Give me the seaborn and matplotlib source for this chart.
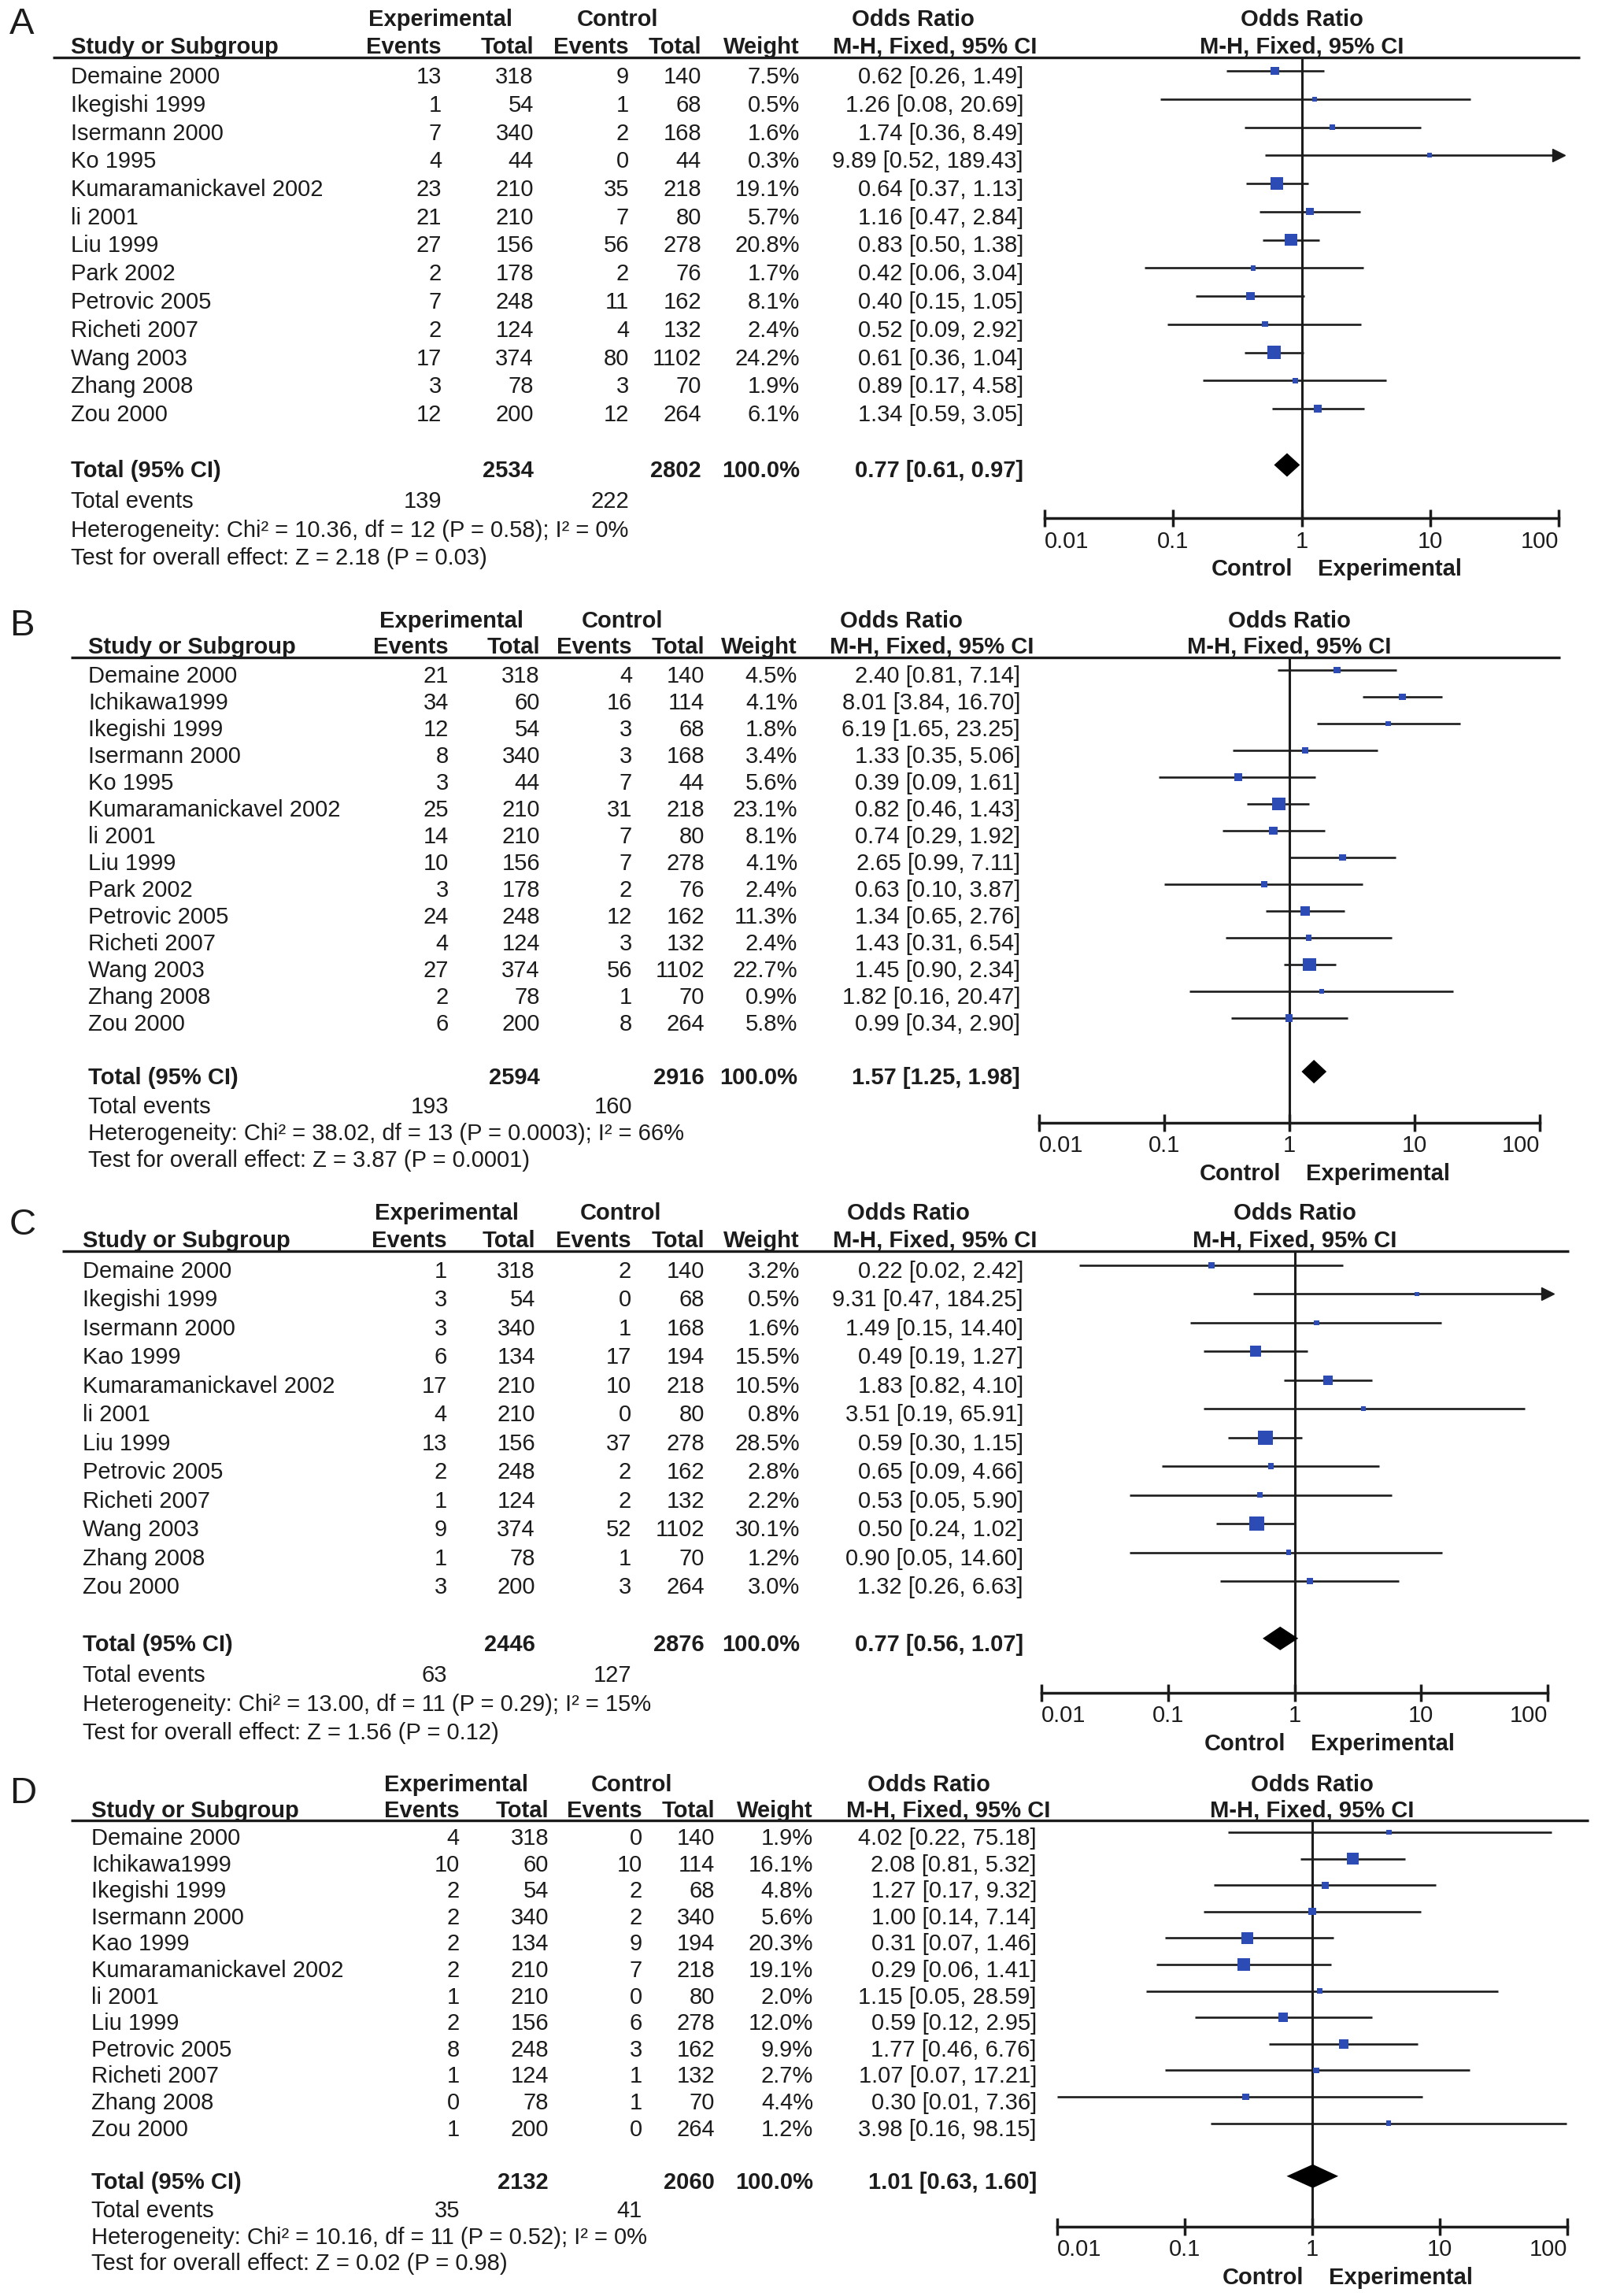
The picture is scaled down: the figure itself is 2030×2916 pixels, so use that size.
"""
Forest plots for four outcomes (panels A-D), RevMan layout: study table on
the left, odds ratios with 95% CI on a log axis on the right.
"""

import matplotlib
matplotlib.use("Agg")

import matplotlib.pyplot as plt
import numpy as np
import pandas as pd
import seaborn as sns
from matplotlib.ticker import NullLocator

W, H, DPI = 2031, 2916, 100
FS = 21
INK = "#1c1c1c"
BLUE = "#2c4bb5"

TICKS = [0.01, 0.1, 1, 10, 100]
TICK_LABELS = ["0.01", "0.1", "1", "10", "100"]

# ---- panel A ----
A_STUDY = ["Demaine 2000", "Ikegishi 1999", "Isermann 2000", "Ko 1995",
           "Kumaramanickavel 2002", "li 2001", "Liu 1999", "Park 2002",
           "Petrovic 2005", "Richeti 2007", "Wang 2003", "Zhang 2008", "Zou 2000"]
A_EXP_EVENTS = [13, 1, 7, 4, 23, 21, 27, 2, 7, 2, 17, 3, 12]
A_EXP_TOTAL = [318, 54, 340, 44, 210, 210, 156, 178, 248, 124, 374, 78, 200]
A_CTL_EVENTS = [9, 1, 2, 0, 35, 7, 56, 2, 11, 4, 80, 3, 12]
A_CTL_TOTAL = [140, 68, 168, 44, 218, 80, 278, 76, 162, 132, 1102, 70, 264]
A_WEIGHT = [7.5, 0.5, 1.6, 0.3, 19.1, 5.7, 20.8, 1.7, 8.1, 2.4, 24.2, 1.9, 6.1]
A_OR = [0.62, 1.26, 1.74, 9.89, 0.64, 1.16, 0.83, 0.42, 0.40, 0.52, 0.61, 0.89, 1.34]
A_LOW = [0.26, 0.08, 0.36, 0.52, 0.37, 0.47, 0.50, 0.06, 0.15, 0.09, 0.36, 0.17, 0.59]
A_HIGH = [1.49, 20.69, 8.49, 189.43, 1.13, 2.84, 1.38, 3.04, 1.05, 2.92, 1.04, 4.58, 3.05]
A_TOTALS = [2534, 2802]
A_POOLED = [0.77, 0.61, 0.97]
A_EVENTS = [139, 222]
A_HET = "Heterogeneity: Chi² = 10.36, df = 12 (P = 0.58); I² = 0%"
A_TEST = "Test for overall effect: Z = 2.18 (P = 0.03)"

# ---- panel B ----
B_STUDY = ["Demaine 2000", "Ichikawa1999", "Ikegishi 1999", "Isermann 2000", "Ko 1995",
           "Kumaramanickavel 2002", "li 2001", "Liu 1999", "Park 2002", "Petrovic 2005",
           "Richeti 2007", "Wang 2003", "Zhang 2008", "Zou 2000"]
B_EXP_EVENTS = [21, 34, 12, 8, 3, 25, 14, 10, 3, 24, 4, 27, 2, 6]
B_EXP_TOTAL = [318, 60, 54, 340, 44, 210, 210, 156, 178, 248, 124, 374, 78, 200]
B_CTL_EVENTS = [4, 16, 3, 3, 7, 31, 7, 7, 2, 12, 3, 56, 1, 8]
B_CTL_TOTAL = [140, 114, 68, 168, 44, 218, 80, 278, 76, 162, 132, 1102, 70, 264]
B_WEIGHT = [4.5, 4.1, 1.8, 3.4, 5.6, 23.1, 8.1, 4.1, 2.4, 11.3, 2.4, 22.7, 0.9, 5.8]
B_OR = [2.40, 8.01, 6.19, 1.33, 0.39, 0.82, 0.74, 2.65, 0.63, 1.34, 1.43, 1.45, 1.82, 0.99]
B_LOW = [0.81, 3.84, 1.65, 0.35, 0.09, 0.46, 0.29, 0.99, 0.10, 0.65, 0.31, 0.90, 0.16, 0.34]
B_HIGH = [7.14, 16.70, 23.25, 5.06, 1.61, 1.43, 1.92, 7.11, 3.87, 2.76, 6.54, 2.34, 20.47, 2.90]
B_TOTALS = [2594, 2916]
B_POOLED = [1.57, 1.25, 1.98]
B_EVENTS = [193, 160]
B_HET = "Heterogeneity: Chi² = 38.02, df = 13 (P = 0.0003); I² = 66%"
B_TEST = "Test for overall effect: Z = 3.87 (P = 0.0001)"

# ---- panel C ----
C_STUDY = ["Demaine 2000", "Ikegishi 1999", "Isermann 2000", "Kao 1999",
           "Kumaramanickavel 2002", "li 2001", "Liu 1999", "Petrovic 2005",
           "Richeti 2007", "Wang 2003", "Zhang 2008", "Zou 2000"]
C_EXP_EVENTS = [1, 3, 3, 6, 17, 4, 13, 2, 1, 9, 1, 3]
C_EXP_TOTAL = [318, 54, 340, 134, 210, 210, 156, 248, 124, 374, 78, 200]
C_CTL_EVENTS = [2, 0, 1, 17, 10, 0, 37, 2, 2, 52, 1, 3]
C_CTL_TOTAL = [140, 68, 168, 194, 218, 80, 278, 162, 132, 1102, 70, 264]
C_WEIGHT = [3.2, 0.5, 1.6, 15.5, 10.5, 0.8, 28.5, 2.8, 2.2, 30.1, 1.2, 3.0]
C_OR = [0.22, 9.31, 1.49, 0.49, 1.83, 3.51, 0.59, 0.65, 0.53, 0.50, 0.90, 1.32]
C_LOW = [0.02, 0.47, 0.15, 0.19, 0.82, 0.19, 0.30, 0.09, 0.05, 0.24, 0.05, 0.26]
C_HIGH = [2.42, 184.25, 14.40, 1.27, 4.10, 65.91, 1.15, 4.66, 5.90, 1.02, 14.60, 6.63]
C_TOTALS = [2446, 2876]
C_POOLED = [0.77, 0.56, 1.07]
C_EVENTS = [63, 127]
C_HET = "Heterogeneity: Chi² = 13.00, df = 11 (P = 0.29); I² = 15%"
C_TEST = "Test for overall effect: Z = 1.56 (P = 0.12)"

# ---- panel D ----
D_STUDY = ["Demaine 2000", "Ichikawa1999", "Ikegishi 1999", "Isermann 2000", "Kao 1999",
           "Kumaramanickavel 2002", "li 2001", "Liu 1999", "Petrovic 2005",
           "Richeti 2007", "Zhang 2008", "Zou 2000"]
D_EXP_EVENTS = [4, 10, 2, 2, 2, 2, 1, 2, 8, 1, 0, 1]
D_EXP_TOTAL = [318, 60, 54, 340, 134, 210, 210, 156, 248, 124, 78, 200]
D_CTL_EVENTS = [0, 10, 2, 2, 9, 7, 0, 6, 3, 1, 1, 0]
D_CTL_TOTAL = [140, 114, 68, 340, 194, 218, 80, 278, 162, 132, 70, 264]
D_WEIGHT = [1.9, 16.1, 4.8, 5.6, 20.3, 19.1, 2.0, 12.0, 9.9, 2.7, 4.4, 1.2]
D_OR = [4.02, 2.08, 1.27, 1.00, 0.31, 0.29, 1.15, 0.59, 1.77, 1.07, 0.30, 3.98]
D_LOW = [0.22, 0.81, 0.17, 0.14, 0.07, 0.06, 0.05, 0.12, 0.46, 0.07, 0.01, 0.16]
D_HIGH = [75.18, 5.32, 9.32, 7.14, 1.46, 1.41, 28.59, 2.95, 6.76, 17.21, 7.36, 98.15]
D_TOTALS = [2132, 2060]
D_POOLED = [1.01, 0.63, 1.60]
D_EVENTS = [35, 41]
D_HET = "Heterogeneity: Chi² = 10.16, df = 11 (P = 0.52); I² = 0%"
D_TEST = "Test for overall effect: Z = 0.02 (P = 0.98)"

# pixel layout of each panel on the 2031x2916 canvas (text centres, column right edges)
LAYOUT = {
    "A": dict(span=(0, 745), letter_y=31, row0=95, sp=35.75, h1=22, h2=57, hline=73,
              study=90, line_x=(67, 2007), exp_ev=561, exp_tot=678, ctl_ev=799, ctl_tot=891,
              weight=1016, or_r=1300, mh_r=1317, exp_hdr=560, ctl_hdr=785, or_hdr=1160,
              f0=1327, f1=1980),
    "B": dict(span=(760, 1500), letter_y=795, row0=856, sp=34.0, h1=786, h2=819, hline=835,
              study=112, line_x=(90, 1982), exp_ev=570, exp_tot=686, ctl_ev=803, ctl_tot=895,
              weight=1013, or_r=1296, mh_r=1313, exp_hdr=573, ctl_hdr=790, or_hdr=1145,
              f0=1320, f1=1956),
    "C": dict(span=(1515, 2228), letter_y=1556, row0=1612, sp=36.45, h1=1538, h2=1573, hline=1589,
              study=105, line_x=(79, 1993), exp_ev=568, exp_tot=680, ctl_ev=802, ctl_tot=895,
              weight=1016, or_r=1300, mh_r=1317, exp_hdr=568, ctl_hdr=789, or_hdr=1154,
              f0=1323, f1=1966),
    "D": dict(span=(2240, 2916), letter_y=2278, row0=2332, sp=33.6, h1=2264, h2=2297, hline=2312,
              study=116, line_x=(90, 2018), exp_ev=584, exp_tot=697, ctl_ev=816, ctl_tot=908,
              weight=1033, or_r=1317, mh_r=1334, exp_hdr=580, ctl_hdr=802, or_hdr=1180,
              f0=1343, f1=1991),
}


def put(ax, x, y, s, ha="right", bold=False, size=FS):
    ax.text(x, y, s, ha=ha, va="center_baseline", fontsize=size,
            fontweight="bold" if bold else "normal", color=INK)


def draw_panel(fig, letter, df, totals, pooled, events, het, test):
    lay = LAYOUT[letter]
    sp = lay["sp"]
    row0 = lay["row0"] - 5          # squares sit a few px above the text centre
    shift = 5 / sp

    def r(px):
        return (px - row0) / sp

    top, bottom = lay["span"]
    ylim = (r(bottom), r(top))
    rect_y, rect_h = 1 - bottom / H, (bottom - top) / H

    tax = fig.add_axes([0, rect_y, 1, rect_h])
    tax.set_xlim(0, W)
    tax.set_ylim(*ylim)
    tax.axis("off")

    # headers
    tax.text(12, r(lay["letter_y"]), letter, ha="left", va="center", fontsize=34, color=INK)
    put(tax, lay["exp_hdr"], r(lay["h1"]), "Experimental", ha="center", bold=True)
    put(tax, lay["ctl_hdr"], r(lay["h1"]), "Control", ha="center", bold=True)
    put(tax, lay["or_hdr"], r(lay["h1"]), "Odds Ratio", ha="center", bold=True)
    h2 = r(lay["h2"])
    put(tax, lay["study"], h2, "Study or Subgroup", ha="left", bold=True)
    put(tax, lay["exp_ev"], h2, "Events", bold=True)
    put(tax, lay["exp_tot"], h2, "Total", bold=True)
    put(tax, lay["ctl_ev"], h2, "Events", bold=True)
    put(tax, lay["ctl_tot"], h2, "Total", bold=True)
    put(tax, lay["weight"], h2, "Weight", bold=True)
    put(tax, lay["mh_r"], h2, "M-H, Fixed, 95% CI", bold=True)
    r_line = r(lay["hline"])
    tax.plot(lay["line_x"], [r_line, r_line], color=INK, lw=2.4, solid_capstyle="butt")

    # study rows
    for rec in df.itertuples():
        y = rec.row + shift
        put(tax, lay["study"], y, rec.study, ha="left")
        put(tax, lay["exp_ev"], y, str(rec.exp_events))
        put(tax, lay["exp_tot"], y, str(rec.exp_total))
        put(tax, lay["ctl_ev"], y, str(rec.ctl_events))
        put(tax, lay["ctl_tot"], y, str(rec.ctl_total))
        put(tax, lay["weight"], y, f"{rec.weight:.1f}%")
        put(tax, lay["or_r"], y, f"{rec.odds:.2f} [{rec.low:.2f}, {rec.high:.2f}]")

    # pooled rows
    rt = len(df) + 1
    y = rt + shift
    put(tax, lay["study"], y, "Total (95% CI)", ha="left", bold=True)
    put(tax, lay["exp_tot"], y, str(totals[0]), bold=True)
    put(tax, lay["ctl_tot"], y, str(totals[1]), bold=True)
    put(tax, lay["weight"], y, "100.0%", bold=True)
    put(tax, lay["or_r"], y, f"{pooled[0]:.2f} [{pooled[1]:.2f}, {pooled[2]:.2f}]", bold=True)
    put(tax, lay["study"], y + 1.08, "Total events", ha="left")
    put(tax, lay["exp_ev"], y + 1.08, str(events[0]))
    put(tax, lay["ctl_ev"], y + 1.08, str(events[1]))
    put(tax, lay["study"], y + 2.1, het, ha="left")
    put(tax, lay["study"], y + 3.08, test, ha="left")

    # forest
    fax = fig.add_axes([lay["f0"] / W, rect_y, (lay["f1"] - lay["f0"]) / W, rect_h])
    fax.patch.set_visible(False)
    fax.set_xscale("log")
    fax.set_xlim(0.01, 100)
    fax.set_ylim(*ylim)

    lo_c = df["low"].clip(lower=0.01)
    hi_c = df["high"].clip(upper=100)
    fax.hlines(df["row"], lo_c, hi_c, color=INK, lw=1.9, zorder=2)
    over = df[df["high"] > 100]
    fax.plot(np.full(len(over), 100.0), over["row"], ls="none", marker=">", ms=12,
             color=INK, clip_on=False, zorder=2)
    sns.scatterplot(data=df, x="odds", y="row", size="weight", sizes=(14, 211),
                    size_norm=(0, 35), marker="s", color=BLUE, linewidth=0,
                    legend=False, ax=fax, zorder=3)

    dh = 15 / sp
    fax.fill([pooled[1], pooled[0], pooled[2], pooled[0]],
             [rt, rt - dh, rt, rt + dh], color="black", lw=0, zorder=3)

    r_axis = rt + 1.9
    fax.plot([1, 1], [r_line, r_axis], color=INK, lw=2.2, clip_on=False, zorder=1)

    fax.text(1, r(lay["h1"]), "Odds Ratio", ha="center", va="center_baseline",
             fontsize=FS, fontweight="bold", color=INK)
    fax.text(1, h2, "M-H, Fixed, 95% CI", ha="center", va="center_baseline",
             fontsize=FS, fontweight="bold", color=INK)
    r_ce = r_axis + 62 / sp
    fax.annotate("Control", xy=(1, r_ce), xytext=(-8, 0), textcoords="offset points",
                 ha="right", va="center_baseline", fontsize=FS, fontweight="bold", color=INK)
    fax.annotate("Experimental", xy=(1, r_ce), xytext=(15, 0), textcoords="offset points",
                 ha="left", va="center_baseline", fontsize=FS, fontweight="bold", color=INK)

    for side in ["top", "right", "left"]:
        fax.spines[side].set_visible(False)
    fax.spines["bottom"].set_position(("data", r_axis))
    fax.spines["bottom"].set_linewidth(2.5)
    fax.spines["bottom"].set_color(INK)
    fax.set_xticks(TICKS, labels=TICK_LABELS)
    fax.xaxis.set_minor_locator(NullLocator())
    fax.tick_params(axis="x", direction="inout", length=16, width=2.5, color=INK,
                    labelsize=FS, labelcolor=INK, pad=3, bottom=True)
    # end labels sit inside the axis span, as in RevMan output
    labels = fax.get_xticklabels()
    labels[0].set_horizontalalignment("left")
    labels[-1].set_horizontalalignment("right")
    fax.set_yticks([])
    fax.set_xlabel("")
    fax.set_ylabel("")


def frame(study, exp_ev, exp_tot, ctl_ev, ctl_tot, weight, odds, low, high):
    df = pd.DataFrame({"study": study, "exp_events": exp_ev, "exp_total": exp_tot,
                       "ctl_events": ctl_ev, "ctl_total": ctl_tot, "weight": weight,
                       "odds": odds, "low": low, "high": high})
    df["row"] = np.arange(len(df))
    return df


def main():
    sns.set_theme(style="white")
    plt.rcParams["font.family"] = ["Liberation Sans", "DejaVu Sans"]

    fig = plt.figure(figsize=(W / DPI, H / DPI), dpi=DPI)
    fig.patch.set_facecolor("white")

    panels = [
        ("A", frame(A_STUDY, A_EXP_EVENTS, A_EXP_TOTAL, A_CTL_EVENTS, A_CTL_TOTAL,
                    A_WEIGHT, A_OR, A_LOW, A_HIGH), A_TOTALS, A_POOLED, A_EVENTS, A_HET, A_TEST),
        ("B", frame(B_STUDY, B_EXP_EVENTS, B_EXP_TOTAL, B_CTL_EVENTS, B_CTL_TOTAL,
                    B_WEIGHT, B_OR, B_LOW, B_HIGH), B_TOTALS, B_POOLED, B_EVENTS, B_HET, B_TEST),
        ("C", frame(C_STUDY, C_EXP_EVENTS, C_EXP_TOTAL, C_CTL_EVENTS, C_CTL_TOTAL,
                    C_WEIGHT, C_OR, C_LOW, C_HIGH), C_TOTALS, C_POOLED, C_EVENTS, C_HET, C_TEST),
        ("D", frame(D_STUDY, D_EXP_EVENTS, D_EXP_TOTAL, D_CTL_EVENTS, D_CTL_TOTAL,
                    D_WEIGHT, D_OR, D_LOW, D_HIGH), D_TOTALS, D_POOLED, D_EVENTS, D_HET, D_TEST),
    ]
    for args in panels:
        draw_panel(fig, *args)

    fig.savefig("out.png", dpi=DPI, facecolor="white")
    plt.close(fig)


if __name__ == "__main__":
    main()
